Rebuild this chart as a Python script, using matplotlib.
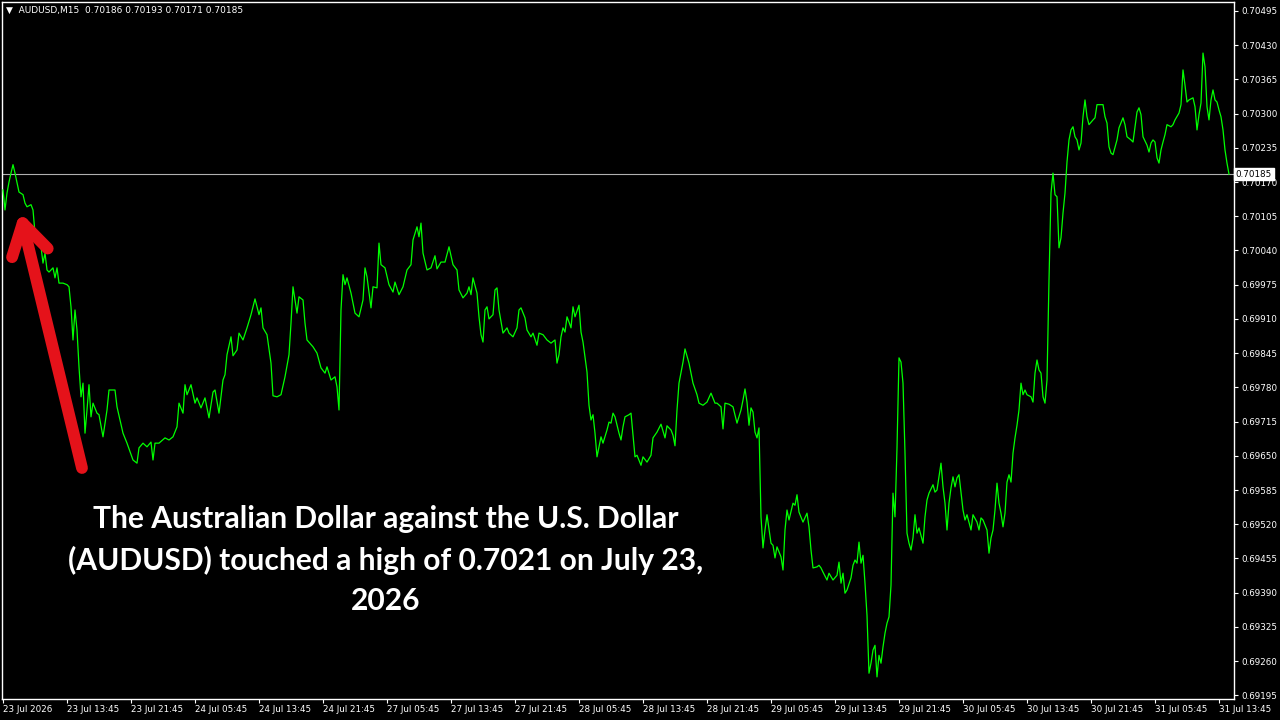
import matplotlib
matplotlib.use("Agg")
import matplotlib.pyplot as plt
import matplotlib.transforms as mtransforms
from matplotlib.patches import FancyArrowPatch

# header of the MT4 window
symbol = "AUDUSD,M15"
ohlc = ["0.70186", "0.70193", "0.70171", "0.70185"]
last_price = 0.70185

# M15 closes (bar number, price)
bars = [0, 1, 2, 3, 4, 5, 6, 8, 10, 11, 12, 14, 15, 16, 17, 18, 19, 20, 21, 22, 23, 25, 26, 27, 28, 30, 32, 33, 34, 35,
        36, 37, 38, 39, 40, 41, 42, 43, 44, 45, 47, 48, 50, 52, 53, 56, 57, 60, 62, 65, 67, 68, 70, 72, 74, 75, 76, 78, 81, 83,
        85, 87, 88, 90, 91, 92, 94, 96, 97, 99, 101, 103, 105, 106, 108, 110, 111, 112, 114, 115, 117, 118, 120, 122, 124, 126, 128, 129, 130, 132,
        134, 135, 137, 139, 141, 143, 144, 145, 147, 148, 150, 151, 152, 155, 157, 159, 161, 162, 164, 166, 167, 168, 169, 170, 171, 172, 174, 176, 178, 180,
        181, 182, 184, 185, 187, 188, 189, 191, 193, 195, 196, 198, 200, 202, 204, 205, 207, 208, 209, 210, 212, 214, 216, 217, 219, 221, 223, 225, 227, 228,
        230, 232, 233, 234, 235, 237, 238, 239, 240, 241, 242, 243, 245, 246, 247, 248, 250, 252, 253, 255, 257, 258, 259, 261, 262, 264, 265, 267, 268, 270,
        272, 274, 276, 277, 278, 279, 280, 281, 282, 283, 284, 285, 286, 288, 289, 290, 291, 292, 293, 294, 295, 296, 297, 298, 299, 300, 302, 303, 304, 305,
        306, 308, 309, 310, 311, 313, 314, 316, 317, 319, 320, 322, 324, 325, 327, 329, 331, 332, 334, 335, 336, 337, 338, 340, 341, 343, 345, 347, 348, 350,
        352, 354, 356, 357, 359, 360, 361, 363, 365, 367, 369, 370, 371, 372, 373, 374, 375, 376, 377, 378, 379, 380, 381, 382, 384, 385, 386, 387, 389, 390,
        391, 392, 393, 395, 396, 397, 398, 400, 402, 403, 404, 405, 407, 408, 409, 410, 412, 413, 415, 417, 418, 419, 420, 421, 422, 424, 425, 426, 427, 428,
        429, 430, 431, 432, 433, 434, 435, 436, 437, 438, 439, 440, 441, 442, 443, 444, 445, 446, 447, 448, 449, 450, 451, 452, 453, 454, 455, 456, 457, 458,
        460, 461, 462, 463, 465, 466, 467, 469, 470, 471, 472, 473, 474, 475, 476, 477, 478, 479, 480, 481, 482, 484, 485, 487, 488, 489, 490, 492, 493, 494,
        495, 496, 497, 498, 499, 500, 501, 502, 503, 504, 505, 506, 507, 508, 509, 510, 511, 512, 514, 515, 516, 517, 518, 519, 520, 521, 522, 523, 524, 525,
        526, 527, 528, 529, 530, 531, 532, 533, 534, 535, 536, 537, 538, 539, 540, 541, 542, 543, 545, 546, 547, 548, 550, 551, 552, 553, 554, 555, 557, 558,
        560, 561, 562, 564, 565, 566, 567, 568, 569, 570, 572, 573, 574, 575, 576, 577, 578, 579, 580, 581, 582, 584, 585, 586, 588, 589, 590, 591, 592, 593,
        595, 596, 597, 598, 599, 600, 601, 602, 603, 604, 605, 606, 607, 608, 609, 610, 611, 612, 613]
closes = [0.70155, 0.70117, 0.70149, 0.70170, 0.70187, 0.70203, 0.70187, 0.70151, 0.70146, 0.70130, 0.70123, 0.70127, 0.70117, 0.70073, 0.70054, 0.70066, 0.70047, 0.70016, 0.70035, 0.70003, 0.69999, 0.70007, 0.69988, 0.70007, 0.69978, 0.69978, 0.69975, 0.69971, 0.69933, 0.69870,
          0.69927, 0.69889, 0.69819, 0.69762, 0.69788, 0.69693, 0.69737, 0.69785, 0.69724, 0.69750, 0.69731, 0.69728, 0.69686, 0.69737, 0.69775, 0.69775, 0.69743, 0.69693, 0.69674, 0.69642, 0.69636, 0.69665, 0.69674, 0.69667, 0.69676, 0.69642, 0.69674, 0.69674, 0.69684, 0.69680,
          0.69686, 0.69705, 0.69750, 0.69731, 0.69785, 0.69766, 0.69785, 0.69750, 0.69760, 0.69741, 0.69760, 0.69722, 0.69771, 0.69775, 0.69731, 0.69794, 0.69804, 0.69842, 0.69876, 0.69840, 0.69851, 0.69883, 0.69870, 0.69893, 0.69918, 0.69948, 0.69918, 0.69931, 0.69893, 0.69880,
          0.69826, 0.69764, 0.69762, 0.69766, 0.69800, 0.69842, 0.69902, 0.69971, 0.69921, 0.69952, 0.69946, 0.69902, 0.69870, 0.69857, 0.69845, 0.69817, 0.69807, 0.69819, 0.69794, 0.69800, 0.69781, 0.69737, 0.69927, 0.69994, 0.69975, 0.69988, 0.69959, 0.69921, 0.69914, 0.69946,
          0.70007, 0.69990, 0.69931, 0.69971, 0.69969, 0.70054, 0.70013, 0.70007, 0.69975, 0.69961, 0.69980, 0.69956, 0.69971, 0.70003, 0.70013, 0.70060, 0.70085, 0.70066, 0.70092, 0.70035, 0.70003, 0.70007, 0.70030, 0.70005, 0.70018, 0.70018, 0.70047, 0.70013, 0.70003, 0.69965,
          0.69950, 0.69959, 0.69971, 0.69956, 0.69988, 0.69959, 0.69914, 0.69880, 0.69866, 0.69927, 0.69933, 0.69910, 0.69918, 0.69965, 0.69969, 0.69927, 0.69883, 0.69893, 0.69883, 0.69876, 0.69893, 0.69927, 0.69931, 0.69912, 0.69889, 0.69876, 0.69883, 0.69860, 0.69883, 0.69880,
          0.69870, 0.69864, 0.69870, 0.69826, 0.69842, 0.69876, 0.69893, 0.69885, 0.69914, 0.69904, 0.69893, 0.69933, 0.69914, 0.69936, 0.69885, 0.69866, 0.69838, 0.69809, 0.69746, 0.69718, 0.69728, 0.69693, 0.69648, 0.69667, 0.69686, 0.69674, 0.69699, 0.69714, 0.69712, 0.69731,
          0.69724, 0.69693, 0.69680, 0.69705, 0.69724, 0.69728, 0.69731, 0.69648, 0.69651, 0.69632, 0.69648, 0.69638, 0.69651, 0.69684, 0.69695, 0.69710, 0.69684, 0.69707, 0.69699, 0.69689, 0.69669, 0.69737, 0.69788, 0.69828, 0.69853, 0.69826, 0.69788, 0.69766, 0.69750, 0.69746,
          0.69752, 0.69769, 0.69750, 0.69750, 0.69743, 0.69701, 0.69750, 0.69748, 0.69743, 0.69712, 0.69737, 0.69756, 0.69777, 0.69752, 0.69708, 0.69741, 0.69733, 0.69695, 0.69684, 0.69703, 0.69534, 0.69475, 0.69509, 0.69538, 0.69484, 0.69480, 0.69456, 0.69477, 0.69458, 0.69433,
          0.69509, 0.69547, 0.69528, 0.69560, 0.69556, 0.69576, 0.69543, 0.69524, 0.69541, 0.69515, 0.69471, 0.69437, 0.69439, 0.69442, 0.69437, 0.69429, 0.69414, 0.69427, 0.69414, 0.69423, 0.69448, 0.69408, 0.69427, 0.69389, 0.69395, 0.69418, 0.69442, 0.69452, 0.69446, 0.69486,
          0.69446, 0.69461, 0.69408, 0.69347, 0.69237, 0.69256, 0.69281, 0.69290, 0.69230, 0.69271, 0.69256, 0.69287, 0.69313, 0.69332, 0.69344, 0.69404, 0.69579, 0.69534, 0.69665, 0.69836, 0.69828, 0.69788, 0.69655, 0.69503, 0.69484, 0.69471, 0.69494, 0.69538, 0.69503, 0.69513,
          0.69484, 0.69534, 0.69566, 0.69579, 0.69595, 0.69581, 0.69585, 0.69636, 0.69591, 0.69560, 0.69509, 0.69560, 0.69589, 0.69610, 0.69591, 0.69608, 0.69614, 0.69581, 0.69547, 0.69528, 0.69538, 0.69509, 0.69538, 0.69524, 0.69509, 0.69532, 0.69528, 0.69509, 0.69465, 0.69494,
          0.69509, 0.69547, 0.69598, 0.69560, 0.69541, 0.69515, 0.69541, 0.69600, 0.69614, 0.69600, 0.69655, 0.69684, 0.69708, 0.69737, 0.69788, 0.69766, 0.69775, 0.69766, 0.69762, 0.69752, 0.69807, 0.69832, 0.69813, 0.69807, 0.69762, 0.69750, 0.69794, 0.69984, 0.70149, 0.70187,
          0.70146, 0.70142, 0.70045, 0.70064, 0.70111, 0.70149, 0.70208, 0.70250, 0.70269, 0.70275, 0.70256, 0.70250, 0.70231, 0.70244, 0.70294, 0.70326, 0.70294, 0.70279, 0.70288, 0.70292, 0.70317, 0.70317, 0.70317, 0.70294, 0.70282, 0.70237, 0.70225, 0.70222, 0.70250, 0.70273,
          0.70292, 0.70279, 0.70256, 0.70250, 0.70246, 0.70275, 0.70303, 0.70311, 0.70298, 0.70256, 0.70240, 0.70227, 0.70244, 0.70250, 0.70246, 0.70216, 0.70206, 0.70231, 0.70246, 0.70260, 0.70279, 0.70275, 0.70279, 0.70288, 0.70301, 0.70317, 0.70383, 0.70354, 0.70322, 0.70326,
          0.70330, 0.70313, 0.70269, 0.70298, 0.70320, 0.70415, 0.70389, 0.70313, 0.70288, 0.70326, 0.70345, 0.70326, 0.70322, 0.70307, 0.70294, 0.70269, 0.70231, 0.70206, 0.70185]

time_ticks = list(range(0, 609, 32))
time_labels = ["23 Jul 2026", "23 Jul 13:45", "23 Jul 21:45", "24 Jul 05:45", "24 Jul 13:45",
               "24 Jul 21:45", "27 Jul 05:45", "27 Jul 13:45", "27 Jul 21:45", "28 Jul 05:45",
               "28 Jul 13:45", "28 Jul 21:45", "29 Jul 05:45", "29 Jul 13:45", "29 Jul 21:45",
               "30 Jul 05:45", "30 Jul 13:45", "30 Jul 21:45", "31 Jul 05:45", "31 Jul 13:45"]
price_ticks = [0.70495, 0.70430, 0.70365, 0.70300, 0.70235, 0.70170, 0.70105, 0.70040, 0.69975,
               0.69910, 0.69845, 0.69780, 0.69715, 0.69650, 0.69585, 0.69520, 0.69455, 0.69390,
               0.69325, 0.69260, 0.69195]

note = ("The Australian Dollar against the U.S. Dollar\n"
        "(AUDUSD) touched a high of 0.7021 on July 23,\n"
        "2026")

fig = plt.figure(figsize=(12.8, 7.2), dpi=100, facecolor="black")
ax = fig.add_axes([2 / 1280, 21 / 720, 1232 / 1280, 697 / 720])
ax.set_facecolor("black")

ax.plot(bars, closes, color="#00ff00", lw=0.9, zorder=3)
ax.axhline(last_price, color="#b0b0b0", lw=0.8, zorder=2)

ax.set_xlim(-0.5, 615.5)
ax.set_ylim(0.69188, 0.70512)

for s in ax.spines.values():
    s.set_color("white")
    s.set_linewidth(1)

ax.yaxis.tick_right()
ax.set_yticks(price_ticks)
ax.set_yticklabels([f"{p:.5f}" for p in price_ticks])
ax.set_xticks(time_ticks)
ax.set_xticklabels(time_labels)
for lab in ax.get_xticklabels():
    lab.set_horizontalalignment("left")
ax.tick_params(colors="white", labelsize=6.3, length=3, width=0.8, direction="out")
ax.tick_params(axis="y", pad=2)
ax.tick_params(axis="x", pad=1)

# current price box on the right scale
trans = mtransforms.blended_transform_factory(ax.transAxes, ax.transData)
ax.text(1.0015, last_price, f"{last_price:.5f}", transform=trans, ha="left", va="center",
        fontsize=6.3, color="black", zorder=5, clip_on=False,
        bbox=dict(boxstyle="square,pad=0.2", fc="white", ec="white"))

fig.text(6 / 1280, 1 - 10 / 720, "\u25bc  " + symbol + "  " + " ".join(ohlc),
         color="white", fontsize=6.5, va="center", ha="left")

fig.text(386 / 1280, 1 - 560 / 720, note, color="white", fontsize=21.6, fontweight="bold",
         family=["Lato", "DejaVu Sans"], ha="center", va="center", linespacing=1.52)

arrow = FancyArrowPatch((82 / 1280, 1 - 468 / 720), (20 / 1280, 1 - 212 / 720),
                        transform=fig.transFigure, arrowstyle="->,head_length=1.0,head_width=0.6",
                        mutation_scale=22, lw=8.5, color="#e5121a", capstyle="round",
                        joinstyle="round", shrinkA=0, shrinkB=0)
fig.patches.append(arrow)

fig.savefig("out.png", dpi=100, facecolor="black")
